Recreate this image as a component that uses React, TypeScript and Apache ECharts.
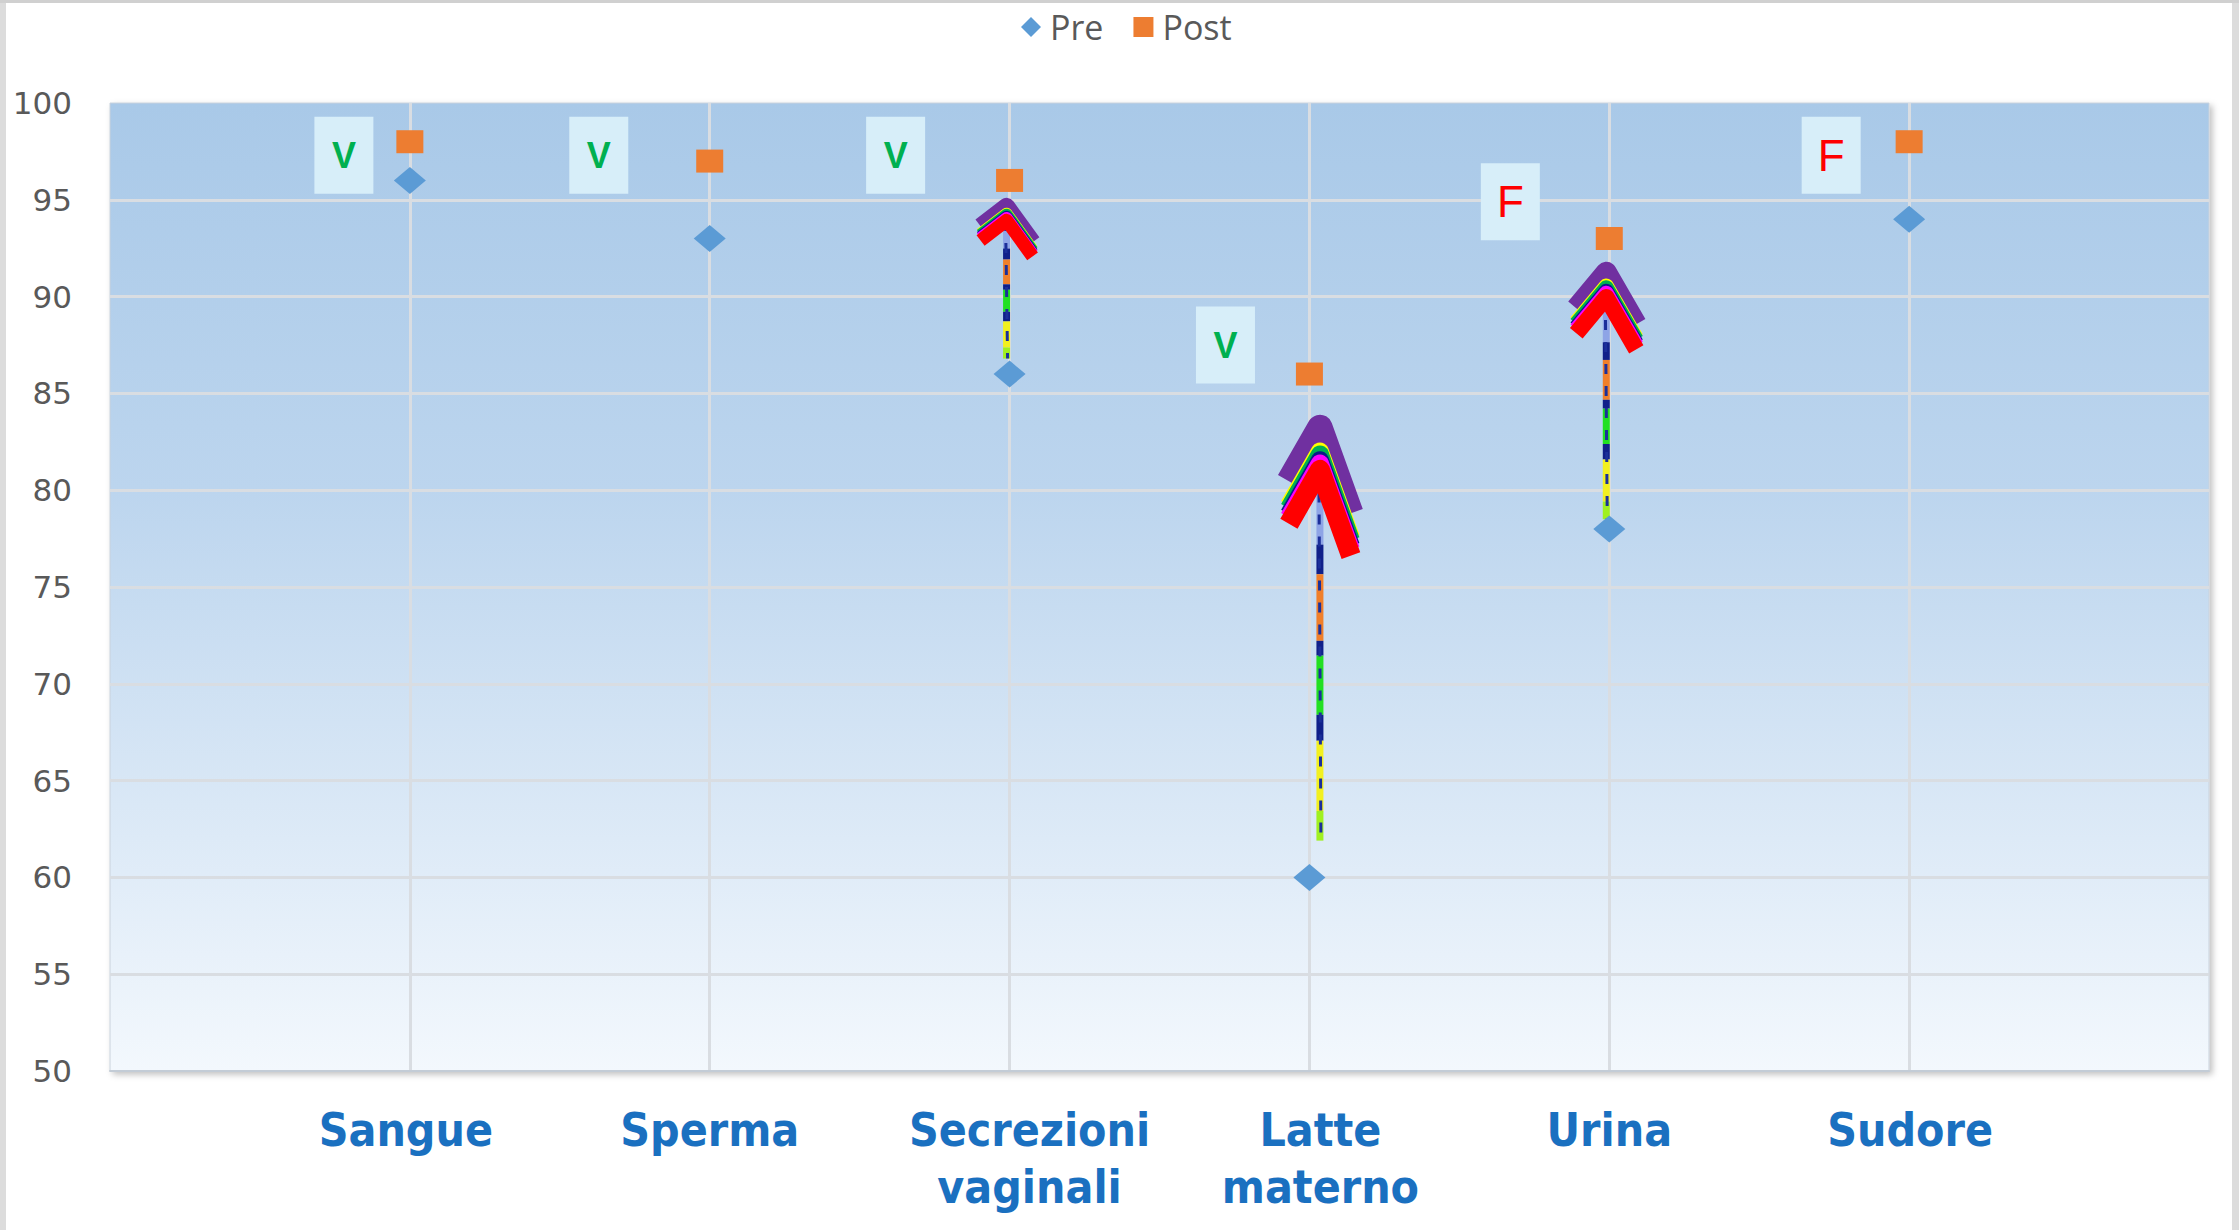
import React, { useEffect, useRef } from "react";
import * as echarts from "echarts";

// ---- data ----
const categories = ["Sangue", "Sperma", "Secrezioni\nvaginali", "Latte\nmaterno", "Urina", "Sudore"];
const preValues = [96, 93, 86, 60, 78, 94];
const postValues = [98, 97, 96, 86, 93, 98];
const yMin = 50;
const yMax = 100;
const yStep = 5;

// verdict annotations (data coordinates)
const verdicts = ["V", "V", "V", "V", "F", "F"];
const verdictX = [0.78, 1.63, 2.62, 3.72, 4.67, 5.74];
const verdictY = [97.3, 97.3, 97.3, 87.5, 94.9, 97.3];

// hand-drawn arrows (data coordinates)
const arrowX = [2.99, 4.035, 4.99];
const arrowFrom = [86.8, 61.9, 78.5];
const arrowTo = [95.1, 83.9, 91.8];

// ---- styles ----
const labelShift = [-8, 0, 40, 22, 0, 2]; // left padding to nudge category labels
const arrowHeads = [
  { hw: 26, dl: 20, dr: 36, lw: 12, stack: 17 },
  { hw: 31, dl: 54, dr: 86, lw: 18, stack: 48 },
  { hw: 30, dl: 36, dr: 52, lw: 15, stack: 29 },
];
const headLayers = [
  { c: "#7030a0", o: 0, w: 1.4 },
  { c: "#ffff00", o: 0.58, w: 1 },
  { c: "#00b050", o: 0.64, w: 1 },
  { c: "#0a1a8a", o: 0.76, w: 1 },
  { c: "#ff00ff", o: 0.83, w: 1 },
  { c: "#ff0000", o: 0.94, w: 1.1 },
];
const shaftSegments: [number, number, string][] = [
  [0, 0.2, "#8ea4e6"],
  [0.2, 0.28, "#10208a"],
  [0.28, 0.46, "#f07f2a"],
  [0.46, 0.5, "#10208a"],
  [0.5, 0.66, "#22e022"],
  [0.66, 0.73, "#10208a"],
  [0.73, 0.92, "#f2f020"],
  [0.92, 1, "#a0f020"],
];

export default function App() {
  const ref = useRef<HTMLDivElement>(null);
  useEffect(() => {
    document.body.style.margin = "0";
    if (!ref.current) return;
    const chart = echarts.init(ref.current, null, { renderer: "svg" });

    const rich: any = {};
    categories.forEach((_, i) => {
      const s = labelShift[i];
      rich["c" + i] = {
        fontSize: 46,
        fontWeight: "bold",
        fontFamily: "DejaVu Sans Condensed, DejaVu Sans",
        color: "#1a70c0",
        lineHeight: 57,
        padding: s >= 0 ? [0, 0, 0, s] : [0, -s, 0, 0],
      };
    });

    const option: any = {
      animation: false,
      backgroundColor: "#ffffff",
      legend: {
        data: ["Pre", "Post"],
        top: 5,
        left: 1016,
        itemWidth: 20,
        itemHeight: 20,
        itemGap: 30,
        textStyle: { fontSize: 34, color: "#595959", fontFamily: "Open Sans", padding: [0, 0, 0, 4] },
      },
      grid: {
        left: 110,
        right: 30,
        top: 103,
        bottom: 159,
        show: true,
        borderColor: "#c9d2dc",
        borderWidth: 1,
        shadowColor: "rgba(0,0,0,0.25)",
        shadowBlur: 6,
        shadowOffsetX: 3,
        shadowOffsetY: 3,
        backgroundColor: new echarts.graphic.LinearGradient(0, 0, 0, 1, [
          { offset: 0, color: "#a9c9e8" },
          { offset: 0.4, color: "#bcd5ee" },
          { offset: 1, color: "#f3f8fd" },
        ]),
      },
      xAxis: {
        type: "value",
        min: 0,
        max: categories.length + 1,
        interval: 1,
        axisTick: { show: false },
        axisLine: { show: true, lineStyle: { color: "#c3ccd6", width: 2 } },
        splitLine: {
          show: true,
          showMinLine: false,
          showMaxLine: false,
          lineStyle: { color: "#d9dde2", width: 3 },
        },
        axisLabel: {
          margin: 30,
          fontSize: 46,
          fontWeight: "bold",
          fontFamily: "DejaVu Sans Condensed, DejaVu Sans",
          color: "#1a70c0",
          lineHeight: 57,
          rich,
          formatter: (v: number) => {
            const i = Math.round(v) - 1;
            const name = categories[i];
            if (name === undefined) return "";
            return name
              .split("\n")
              .map((ln) => `{c${i}|${ln}}`)
              .join("\n");
          },
        },
      },
      yAxis: {
        type: "value",
        min: yMin,
        max: yMax,
        interval: yStep,
        axisLine: { show: false },
        axisTick: { show: false },
        splitLine: {
          show: true,
          showMinLine: false,
          showMaxLine: false,
          lineStyle: { color: "#d9dde2", width: 3 },
        },
        axisLabel: { margin: 38, fontSize: 31, color: "#595959", fontFamily: "DejaVu Sans" },
      },
      graphic: [
        { type: "rect", left: 0, top: 0, shape: { width: 6, height: 1230 }, style: { fill: "#dcdcdc" }, silent: true },
        { type: "rect", left: 2232, top: 0, shape: { width: 7, height: 1230 }, style: { fill: "#dcdcdc" }, silent: true },
        { type: "rect", left: 0, top: 0, shape: { width: 2239, height: 3 }, style: { fill: "#d0d0d0" }, silent: true },
      ],
      series: [
        {
          type: "custom",
          name: "arrows",
          coordinateSystem: "cartesian2d",
          encode: { x: 0, y: [1, 2] },
          data: arrowX.map((x, i) => [x, arrowFrom[i], arrowTo[i]]),
          z: 3,
          renderItem: (params: any, api: any) => {
            const i = params.dataIndex;
            const top = api.coord([api.value(0), api.value(2)]);
            const bot = api.coord([api.value(0), api.value(1)]);
            const h = arrowHeads[i];
            const x = top[0];
            const ty = top[1];
            const by = bot[1];
            const shaftTop = ty + h.stack * 0.94 + h.lw * 0.6;
            const len = by - shaftTop;
            const children: any[] = [];
            shaftSegments.forEach(([f0, f1, c]) => {
              children.push({
                type: "line",
                shape: { x1: x, y1: shaftTop + len * f0, x2: x, y2: shaftTop + len * f1 },
                style: { stroke: c, lineWidth: 7 },
              });
            });
            children.push({
              type: "line",
              shape: { x1: x - 1, y1: shaftTop, x2: x + 1, y2: by },
              style: { stroke: "#1b2f9a", lineWidth: 3, lineDash: [10, 12] },
            });
            headLayers.forEach((L) => {
              const w = h.lw * L.w;
              const dy = h.stack * L.o + w / 2;
              children.push({
                type: "polyline",
                shape: {
                  points: [
                    [x - h.hw, ty + h.dl + dy],
                    [x, ty + dy],
                    [x + h.hw, ty + h.dr + dy],
                  ],
                },
                style: { stroke: L.c, lineWidth: w, fill: "none", lineJoin: "round", lineCap: "butt" },
              });
            });
            return { type: "group", children };
          },
        },
        {
          type: "scatter",
          name: "verdict",
          symbol: "rect",
          symbolSize: [59, 77],
          itemStyle: { color: "#d7eef9", opacity: 1 },
          z: 2,
          data: verdicts.map((v, i) => ({
            value: [verdictX[i], verdictY[i]],
            label: {
              show: true,
              position: "inside",
              formatter: v,
              fontFamily: "Liberation Sans",
              color: v === "V" ? "#00b050" : "#ff0000",
              fontSize: v === "V" ? 36 : 44,
              fontWeight: v === "V" ? "bold" : "normal",
            },
          })),
          emphasis: { disabled: true },
        },
        {
          type: "scatter",
          name: "Pre",
          symbol: "diamond",
          symbolSize: [32, 27],
          itemStyle: { color: "#5b9bd5", opacity: 1 },
          z: 4,
          data: preValues.map((v, i) => [i + 1, v]),
        },
        {
          type: "scatter",
          name: "Post",
          symbol: "rect",
          symbolSize: [27, 23],
          itemStyle: { color: "#ed7d31", opacity: 1 },
          z: 4,
          data: postValues.map((v, i) => [i + 1, v]),
        },
      ],
    };
    chart.setOption(option);
    return () => chart.dispose();
  }, []);
  return <div ref={ref} style={{ width: 2239, height: 1230 }} />;
}
